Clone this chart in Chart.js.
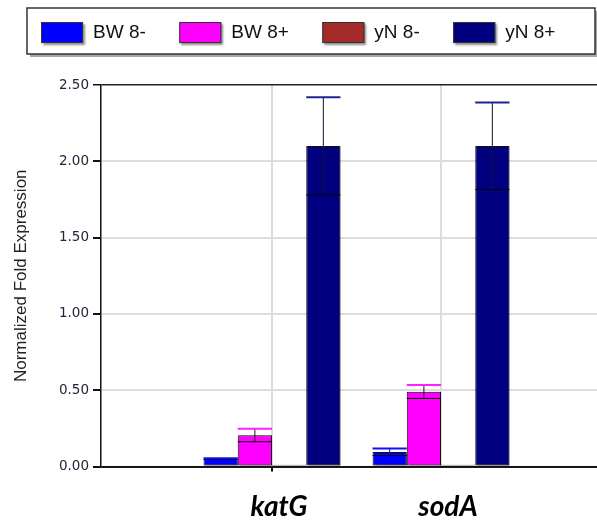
<!DOCTYPE html>
<html>
<head>
<meta charset="utf-8">
<script src="https://cdn.jsdelivr.net/npm/chart.js@4.4.1/dist/chart.umd.min.js"></script>
<style>
  html, body { margin: 0; padding: 0; background: #fff; }
  #wrap { position: relative; width: 597px; height: 523px; }
</style>
</head>
<body>
<div id="wrap"><canvas id="c"></canvas></div>
<script>
// Genes on the category axis
const categories = ['katG', 'sodA'];
// Series names
const seriesNames = ['BW 8-', 'BW 8+', 'yN 8-', 'yN 8+'];
// Normalized fold expression per gene, and its error
const bw8Minus = [0.05, 0.095];
const bw8MinusErr = [0.004, 0.023];
const bw8Plus = [0.205, 0.49];
const bw8PlusErr = [0.043, 0.044];
const yN8Minus = [0.012, 0.012];
const yN8MinusErr = [0, 0];
const yN8Plus = [2.10, 2.10];
const yN8PlusErr = [0.32, 0.285];
// Value-axis ticks
const yTicks = [0, 0.5, 1.0, 1.5, 2.0, 2.5];

const seriesValues = [bw8Minus, bw8Plus, yN8Minus, yN8Plus];
const seriesErrors = [bw8MinusErr, bw8PlusErr, yN8MinusErr, yN8PlusErr];
const fillColors = ['#0000ff', '#ff00ff', '#a52a2a', '#000080'];
const capColors = ['#1010ff', '#ff20ff', '#a52a2a', '#20209a'];

const datasets = seriesNames.map((name, s) => ({
  label: name,
  data: categories.map((c, i) => ({ x: i + 1, y: seriesValues[s][i] })),
  errors: seriesErrors[s],
  capColor: capColors[s],
  backgroundColor: fillColors[s],
  borderColor: '#111',
  borderWidth: 1,
  borderSkipped: false,
  categoryPercentage: 0.81,
  barPercentage: 1.0
}));

// Soft drop shadow under the bars
const barShadow = {
  id: 'barShadow',
  beforeDatasetsDraw(chart) {
    const ctx = chart.ctx;
    ctx.save();
    ctx.shadowColor = 'rgba(0,0,0,0.45)';
    ctx.shadowOffsetX = 2;
    ctx.shadowOffsetY = 1;
    ctx.shadowBlur = 2;
  },
  afterDatasetsDraw(chart) {
    chart.ctx.restore();
  }
};

// Error bars: coloured top cap, dark stem, black lower cap
const errorBars = {
  id: 'errorBars',
  afterDatasetsDraw(chart) {
    const ctx = chart.ctx;
    const yScale = chart.scales.y;
    chart.data.datasets.forEach((ds, di) => {
      const meta = chart.getDatasetMeta(di);
      meta.data.forEach((bar, i) => {
        const e = ds.errors[i];
        if (!e) return;
        const v = ds.data[i].y;
        const yt = yScale.getPixelForValue(v + e);
        const yb = yScale.getPixelForValue(v - e);
        const half = bar.width / 2;
        ctx.save();
        ctx.lineWidth = 1;
        ctx.strokeStyle = '#141430';
        ctx.beginPath();
        ctx.moveTo(bar.x, yt);
        ctx.lineTo(bar.x, yb);
        ctx.stroke();
        ctx.strokeStyle = '#000';
        ctx.beginPath();
        ctx.moveTo(bar.x - half, yb);
        ctx.lineTo(bar.x + half, yb);
        ctx.stroke();
        ctx.lineWidth = 2;
        ctx.strokeStyle = ds.capColor;
        ctx.beginPath();
        ctx.moveTo(bar.x - half, yt);
        ctx.lineTo(bar.x + half, yt);
        ctx.stroke();
        ctx.restore();
      });
    });
  }
};

// Framed legend row above the plot
const framedLegend = {
  id: 'framedLegend',
  afterDraw(chart) {
    const ctx = chart.ctx;
    const box = { left: 27, top: 8, right: 595, bottom: 54 };
    ctx.save();
    ctx.fillStyle = 'rgba(0,0,0,0.35)';
    ctx.fillRect(box.left + 3, box.top + 3, box.right - box.left, box.bottom - box.top);
    ctx.fillStyle = '#fff';
    ctx.fillRect(box.left, box.top, box.right - box.left, box.bottom - box.top);
    ctx.strokeStyle = '#333';
    ctx.lineWidth = 1.5;
    ctx.strokeRect(box.left, box.top, box.right - box.left, box.bottom - box.top);

    ctx.font = '19px "Liberation Sans", Arial, sans-serif';
    ctx.textBaseline = 'middle';
    ctx.textAlign = 'left';
    const sw = 42, sh = 21, sy = 22, gapText = 10, gapItem = 33.5;
    let x = 41;
    chart.data.datasets.forEach((ds) => {
      ctx.save();
      ctx.shadowColor = 'rgba(0,0,0,0.45)';
      ctx.shadowOffsetX = 2;
      ctx.shadowOffsetY = 2;
      ctx.shadowBlur = 2;
      ctx.fillStyle = ds.backgroundColor;
      ctx.fillRect(x, sy, sw, sh);
      ctx.restore();
      ctx.strokeStyle = '#333';
      ctx.lineWidth = 1;
      ctx.strokeRect(x + 0.5, sy + 0.5, sw - 1, sh - 1);
      ctx.fillStyle = '#111';
      const tx = x + sw + gapText;
      ctx.fillText(ds.label, tx, sy + sh / 2);
      x = tx + ctx.measureText(ds.label).width + gapItem;
    });
    ctx.restore();
  }
};

new Chart(document.getElementById('c'), {
  type: 'bar',
  data: { datasets },
  options: {
    responsive: true,
    maintainAspectRatio: false,
    animation: false,
    layout: { padding: { top: 85, left: 0, right: 0, bottom: 0 } },
    plugins: {
      legend: { display: false },
      tooltip: { enabled: false }
    },
    scales: {
      x: {
        type: 'linear',
        offset: false,
        min: -0.0118,
        max: 2.923,
        afterBuildTicks(scale) {
          scale.ticks = categories.map((c, i) => ({ value: i + 1 }));
        },
        afterFit(scale) { scale.height = 56.5; },
        grid: {
          offset: false,
          color: '#dcdcdc',
          lineWidth: 2,
          tickLength: 5,
          tickColor: (ctx) => ctx.index === 0 ? '#000' : 'rgba(0,0,0,0)'
        },
        border: { display: true, color: '#111', width: 1.5 },
        ticks: {
          autoSkip: false,
          maxRotation: 0,
          padding: 19,
          labelOffset: 7,
          color: '#000',
          font: { family: 'Lato', size: 28, weight: 'bold', style: 'italic' },
          callback: (v) => categories[Math.round(v) - 1] || ''
        }
      },
      y: {
        min: 0,
        max: 2.5,
        afterBuildTicks(scale) {
          scale.ticks = yTicks.map((v) => ({ value: v }));
        },
        afterFit(scale) { scale.width = 101; },
        grid: {
          color: (ctx) => (ctx.tick && (ctx.tick.value === 2.5 || ctx.tick.value === 0)) ? '#222' : '#dcdcdc',
          lineWidth: (ctx) => (ctx.tick && ctx.tick.value === 2.5) ? 1.5 : 2,
          tickLength: 8,
          tickColor: '#111'
        },
        border: { display: true, color: '#111', width: 1.5 },
        ticks: {
          padding: 4,
          color: '#23233a',
          font: { family: 'DejaVu Sans', size: 13.5 },
          callback: (v) => Number(v).toFixed(2)
        },
        title: {
          display: true,
          text: 'Normalized Fold Expression',
          color: '#222',
          font: { family: 'Liberation Sans', size: 17 },
          padding: { top: 11, bottom: 0 }
        }
      }
    }
  },
  plugins: [barShadow, errorBars, framedLegend]
});
</script>
</body>
</html>
